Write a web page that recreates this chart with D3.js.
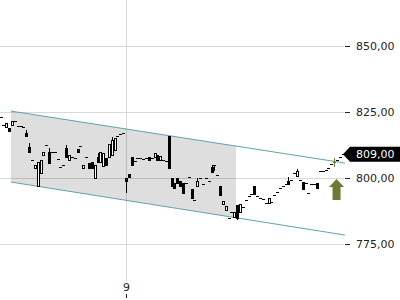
<!DOCTYPE html>
<html>
<head>
<meta charset="utf-8">
<script src="https://cdn.jsdelivr.net/npm/d3@7"></script>
<style>
  body { margin: 0; background: #fff; }
  svg { display: block; }
</style>
</head>
<body>
<svg id="chart" width="400" height="300"></svg>
<script>
// candle values, one entry per bar
const opens = [823.1, 820.1, 819.3, 818.9, 820.1, 821.6, 819.7, 819.7, 819.3, 817.0,
  811.7, 806.8, 803.8, 797.0, 801.9, 808.7, 812.5, 809.8, 809.8, 809.8,
  807.2, 804.2, 804.9, 811.4, 806.8, 808.0, 807.6, 811.0, 812.1, 803.8,
  808.0, 805.7, 806.1, 800.0, 808.0, 806.1, 804.5, 807.6, 808.0, 808.7,
  810.6, 815.9, 816.7, 817.0, 800.0, 801.5, 808.0, 806.4, 807.6, 807.6,
  807.2, 807.6, 808.0, 807.6, 808.0, 808.7, 806.8, 806.8, 806.4, 815.9,
  800.0, 798.1, 800.0, 798.9, 798.1, 798.1, 800.4, 795.8, 791.7, 797.0,
  800.0, 797.7, 800.0, 798.9, 804.2, 804.9, 801.1, 797.0, 790.2, 787.9,
  784.8, 787.1, 785.2, 789.8, 787.1, 789.0, 791.7, 793.2, 793.9, 797.0,
  793.2, 792.4, 792.0, 790.5, 790.5, 790.9, 793.6, 794.7, 796.2, 797.0,
  797.7, 798.9, 799.2, 801.9, 800.8, 799.2, 798.5, 798.1, 794.3, 797.7,
  797.7, 798.1, 802.7, 802.7, 803.0, 803.8, 805.3, 806.1, 806.8, 808.0,
  809.0];
const closes = [823.1, 820.1, 820.8, 817.8, 821.6, 821.6, 819.7, 819.7, 819.3, 815.9,
  809.8, 806.8, 804.9, 806.1, 806.8, 809.8, 812.5, 805.7, 809.8, 809.8,
  807.2, 804.2, 804.9, 808.0, 808.7, 808.0, 807.6, 809.8, 812.1, 804.9,
  808.0, 803.8, 803.8, 804.9, 806.1, 809.8, 809.5, 804.9, 812.9, 814.4,
  815.2, 815.9, 816.7, 817.0, 798.9, 800.4, 804.9, 806.4, 807.6, 807.6,
  807.2, 807.6, 806.8, 807.6, 809.5, 806.8, 808.3, 806.8, 806.4, 803.8,
  797.0, 796.2, 798.1, 797.0, 794.3, 798.1, 800.4, 792.4, 791.7, 798.9,
  800.0, 797.7, 800.0, 798.9, 802.3, 804.9, 801.1, 793.6, 791.3, 789.4,
  784.8, 787.1, 787.1, 784.8, 790.2, 789.0, 791.7, 793.2, 793.9, 793.9,
  793.2, 792.4, 792.0, 790.5, 792.4, 790.9, 793.6, 794.7, 796.2, 797.0,
  797.7, 797.7, 799.2, 801.9, 802.7, 799.2, 795.8, 798.1, 794.3, 797.7,
  797.7, 796.2, 802.7, 802.7, 803.0, 803.8, 805.3, 806.1, 806.8, 808.0,
  809.0];
// wick extremes only where a wick is visible; null = body edge
const highs = {9: 818.2, 10: 813.3, 17: 811.4, 23: 812.5, 34: 809.5, 39: 815.5,
  69: 800.0, 74: 804.9, 101: 800.4, 104: 803.4, 117: 807.6};
const lows = {44: 794.7, 75: 803.0, 83: 784.5, 117: 804.5};

const signalBar = 117;          // bar marked in green
const lastPrice = 809.0;

// trend channel: [bar index, price] at each end
const channelTop = [[3.65, 825.3], [120.8, 805.7]];
const channelBottom = [[3.65, 798.5], [120.8, 778.5]];
const shadeEnd = 82.6;

const yTicks = [775, 800, 825, 850];
const xTickBars = [44];
const xTickLabels = ["9"];

const svg = d3.select("#chart");
const font = "DejaVu Sans";

const x = d3.scaleLinear().domain([0, opens.length - 1]).range([0.6, 342.6]);
const y = d3.scaleLinear().domain([775, 850]).range([244.3, 45.7]);
const fmt = v => d3.format(".2f")(v).replace(".", ",");

// horizontal grid
svg.append("g")
  .selectAll("line")
  .data(yTicks)
  .enter()
  .append("line")
    .attr("x1", 0)
    .attr("x2", 344)
    .attr("y1", d => Math.round(y(d)) + 0.5)
    .attr("y2", d => Math.round(y(d)) + 0.5)
    .style("stroke", "#d9d9d9");

// vertical grid
svg.append("g")
  .selectAll("line")
  .data(xTickBars)
  .enter()
  .append("line")
    .attr("x1", d => Math.round(x(d)) + 0.5)
    .attr("x2", d => Math.round(x(d)) + 0.5)
    .attr("y1", 0)
    .attr("y2", 282)
    .style("stroke", "#d9d9d9");

// shaded part of the channel
const lineAt = (pts, t) => pts[0][1] + (pts[1][1] - pts[0][1]) * (t - pts[0][0]) / (pts[1][0] - pts[0][0]);
const t0 = channelTop[0][0];
const shade = [
  [x(t0), y(lineAt(channelTop, t0))],
  [x(shadeEnd), y(lineAt(channelTop, shadeEnd))],
  [x(shadeEnd), y(lineAt(channelBottom, shadeEnd))],
  [x(t0), y(lineAt(channelBottom, t0))]
];
svg.append("path")
  .attr("d", "M" + shade.map(p => p.join(",")).join("L") + "Z")
  .style("fill", "#000")
  .style("fill-opacity", 0.13);

// channel lines
[channelTop, channelBottom].forEach(pts => {
  svg.append("line")
    .attr("x1", x(pts[0][0]))
    .attr("y1", y(pts[0][1]))
    .attr("x2", x(pts[1][0]))
    .attr("y2", y(pts[1][1]))
    .style("stroke", "#62a2a8")
    .style("stroke-width", 1);
});

// candles
const candles = svg.append("g").attr("shape-rendering", "crispEdges");
opens.forEach((o, i) => {
  const c = closes[i];
  const col = i === signalBar ? "#6b7a35" : "#000";
  const px = Math.round(x(i));
  const top = Math.round(y(Math.max(o, c)));
  const bot = Math.round(y(Math.min(o, c)));
  const hi = highs[i] !== undefined ? highs[i] : Math.max(o, c);
  const lo = lows[i] !== undefined ? lows[i] : Math.min(o, c);
  const yh = Math.round(y(hi)), yl = Math.round(y(lo));
  if (yl > yh) {
    candles.append("rect")
      .attr("x", px).attr("y", yh)
      .attr("width", 1).attr("height", yl - yh + 1)
      .style("fill", col);
  }
  if (bot - top < 2) {
    candles.append("rect")
      .attr("x", px - 1).attr("y", top)
      .attr("width", 3).attr("height", 1)
      .style("fill", col);
  } else if (c < o) {
    candles.append("rect")
      .attr("x", px - 1).attr("y", top)
      .attr("width", 3).attr("height", bot - top + 1)
      .style("fill", col);
  } else {
    candles.append("rect")
      .attr("x", px - 0.5).attr("y", top + 0.5)
      .attr("width", 2).attr("height", bot - top)
      .style("fill", "#fff")
      .style("stroke", col)
      .style("stroke-width", 1);
  }
});

// y axis ticks and labels
const yAxis = svg.append("g");
yAxis.selectAll(".tick")
  .data(yTicks)
  .enter()
  .append("line")
    .attr("x1", 345)
    .attr("x2", 350)
    .attr("y1", d => Math.round(y(d)) + 0.5)
    .attr("y2", d => Math.round(y(d)) + 0.5)
    .style("stroke", "#222");
yAxis.selectAll("text")
  .data(yTicks)
  .enter()
  .append("text")
    .attr("x", 356)
    .attr("y", d => y(d))
    .attr("dy", "0.36em")
    .text(fmt)
    .style("font-family", font)
    .style("font-size", "11px")
    .style("fill", "#222");

// x axis label
svg.selectAll(".xlab")
  .data(xTickBars)
  .enter()
  .append("text")
    .attr("x", d => Math.round(x(d)) + 0.5)
    .attr("y", 287)
    .attr("dy", "0.36em")
    .text((d, i) => xTickLabels[i])
    .style("text-anchor", "middle")
    .style("font-family", font)
    .style("font-size", "11px")
    .style("fill", "#222");
svg.selectAll(".xtick")
  .data(xTickBars)
  .enter()
  .append("line")
    .attr("x1", d => Math.round(x(d)) + 0.5)
    .attr("x2", d => Math.round(x(d)) + 0.5)
    .attr("y1", 294)
    .attr("y2", 298)
    .style("stroke", "#222");

// last price tag
const ly = y(lastPrice);
svg.append("path")
  .attr("d", `M343,${ly} L350,${ly - 7.5} L400,${ly - 7.5} L400,${ly + 7.5} L350,${ly + 7.5} Z`)
  .style("fill", "#000");
svg.append("text")
  .attr("x", 356)
  .attr("y", ly)
  .attr("dy", "0.36em")
  .text(fmt(lastPrice))
  .style("font-family", font)
  .style("font-size", "11px")
  .style("fill", "#fff");

// buy signal arrow under the marked bar
const ax = x(signalBar) + 2.5;
const atop = y(closes[signalBar]) + 17;
svg.append("path")
  .attr("d", `M${ax},${atop} L${ax + 7.5},${atop + 8} L${ax + 4},${atop + 8} L${ax + 4},${atop + 21} L${ax - 4},${atop + 21} L${ax - 4},${atop + 8} L${ax - 7.5},${atop + 8} Z`)
  .style("fill", "#6b7a35");
</script>
</body>
</html>
